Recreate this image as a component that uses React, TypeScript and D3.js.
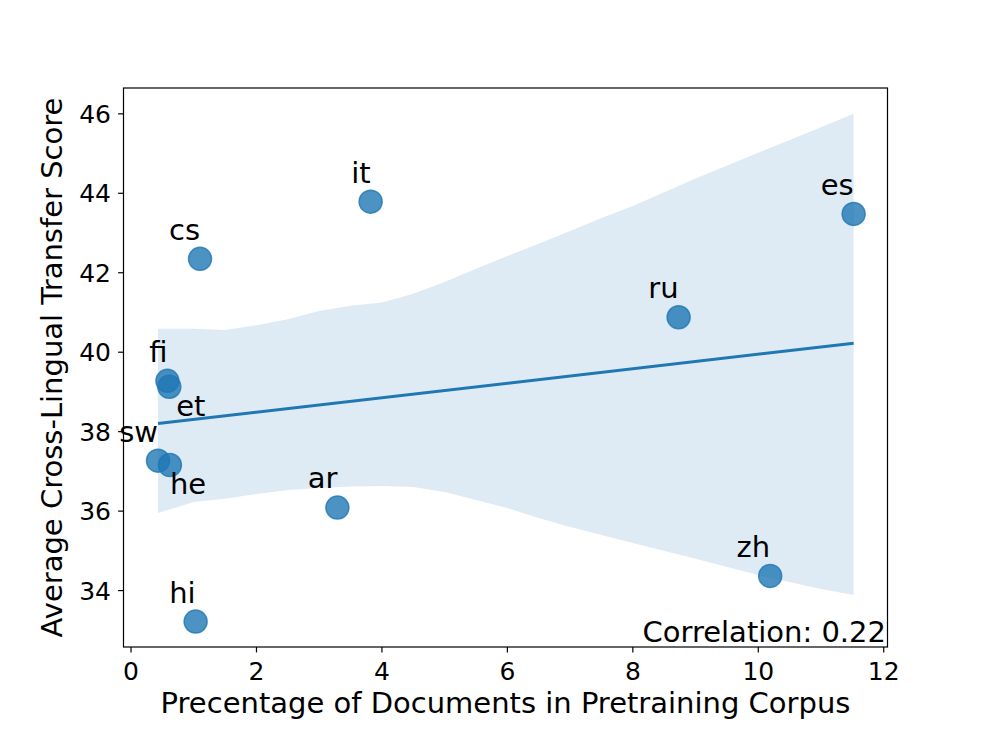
import React from "react";
import * as d3 from "d3";

const languages = ["sw", "fi", "et", "he", "hi", "cs", "ar", "it", "ru", "zh", "es"];
const docPercent = [0.43, 0.58, 0.61, 0.62, 1.03, 1.1, 3.29, 3.82, 8.73, 10.19, 11.52];
const transferScore = [37.27, 39.28, 39.13, 37.16, 33.22, 42.35, 36.09, 43.79, 40.88, 34.37, 43.48];

// confidence band
const bandX = [0.43, 1.0, 1.5, 2.0, 2.5, 3.0, 3.5, 4.0, 4.5, 5.0, 5.5, 6.0, 6.5, 7.0, 7.5, 8.0, 9.0, 10.0, 11.0, 11.52];
const bandUpper = [40.59, 40.59, 40.56, 40.68, 40.83, 41.04, 41.17, 41.25, 41.47, 41.77, 42.1, 42.42, 42.73, 43.05, 43.38, 43.68, 44.37, 45.02, 45.66, 46.0];
const bandLower = [35.95, 36.23, 36.31, 36.43, 36.53, 36.58, 36.62, 36.63, 36.61, 36.48, 36.28, 36.08, 35.83, 35.6, 35.4, 35.2, 34.8, 34.39, 34.04, 33.89];

const xTicks = [0, 2, 4, 6, 8, 10, 12];
const yTicks = [34, 36, 38, 40, 42, 44, 46];

// label placement (anchor, offset in data units)
const labelAnchor = ["end", "end", "start", "start", "end", "end", "end", "end", "end", "end", "end"];
const labelDx = [0, 0, 0.11, 0, 0, 0, 0, 0, 0, 0, 0];
const labelDy = [0.48, 0.48, -0.74, -0.73, 0.48, 0.48, 0.48, 0.48, 0.48, 0.48, 0.48];

const W = 987;
const H = 740;
const L = 123.5, R = 887.5, T = 88, B = 647;
const BLUE = "#1f77b4";
const FONT = "DejaVu Sans, sans-serif";

export default function App() {
  const x = d3.scaleLinear().domain([-0.12, 12.06]).range([L, R]);
  const y = d3.scaleLinear().domain([32.58, 46.65]).range([B, T]);

  const n = docPercent.length;
  const mx = d3.mean(docPercent) as number;
  const my = d3.mean(transferScore) as number;
  let sxy = 0, sxx = 0, syy = 0;
  for (let i = 0; i < n; i++) {
    sxy += (docPercent[i] - mx) * (transferScore[i] - my);
    sxx += (docPercent[i] - mx) ** 2;
    syy += (transferScore[i] - my) ** 2;
  }
  const slope = sxy / sxx;
  const intercept = my - slope * mx;
  const r = sxy / Math.sqrt(sxx * syy);
  const xMin = d3.min(docPercent) as number;
  const xMax = d3.max(docPercent) as number;

  const area = d3
    .area<number>()
    .x((_, i) => x(bandX[i]))
    .y0((_, i) => y(bandLower[i]))
    .y1((_, i) => y(bandUpper[i]));

  const line = d3
    .line<number>()
    .x((d) => x(d))
    .y((d) => y(intercept + slope * d));

  return (
    <svg
      width={W}
      height={H}
      style={{ position: "absolute", left: 0, top: 0, background: "#fff" }}
      fontFamily={FONT}
    >
      <rect x={0} y={0} width={W} height={H} fill="#fff" />
      {docPercent.map((d, i) => (
        <circle
          key={"p" + i}
          cx={x(d)}
          cy={y(transferScore[i])}
          r={11.5}
          fill={BLUE}
          fillOpacity={0.8}
          stroke={BLUE}
          strokeOpacity={0.8}
          strokeWidth={1.5}
        />
      ))}
      <path d={area(bandX) || ""} fill={BLUE} fillOpacity={0.15} />
      <path d={line([xMin, xMax]) || ""} fill="none" stroke={BLUE} strokeWidth={3} />
      {languages.map((lang, i) => (
        <text
          key={"t" + i}
          x={x(docPercent[i] + labelDx[i])}
          y={y(transferScore[i] + labelDy[i])}
          textAnchor={labelAnchor[i] as any}
          fontSize={29}
          fill="#000"
        >
          {lang}
        </text>
      ))}
      <text x={886} y={641.5} textAnchor="end" fontSize={29} fill="#000">
        {"Correlation: " + r.toFixed(2)}
      </text>
      {/* spines */}
      <rect x={L} y={T} width={R - L} height={B - T} fill="none" stroke="#000" strokeWidth={1.2} />
      {/* x ticks */}
      {xTicks.map((t) => (
        <g key={"xt" + t}>
          <line x1={x(t)} x2={x(t)} y1={B} y2={B + 5.4} stroke="#000" strokeWidth={1.2} />
          <text x={x(t)} y={679.5} textAnchor="middle" fontSize={25} fill="#000">
            {t}
          </text>
        </g>
      ))}
      {yTicks.map((t) => (
        <g key={"yt" + t}>
          <line x1={L - 5.4} x2={L} y1={y(t)} y2={y(t)} stroke="#000" strokeWidth={1.2} />
          <text x={111} y={y(t) + 9.1} textAnchor="end" fontSize={25} fill="#000">
            {t}
          </text>
        </g>
      ))}
      <text x={(L + R) / 2} y={713.3} textAnchor="middle" fontSize={29} fill="#000">
        Precentage of Documents in Pretraining Corpus
      </text>
      <text
        transform={`translate(61.7,${(T + B) / 2}) rotate(-90)`}
        textAnchor="middle"
        fontSize={29}
        fill="#000"
      >
        Average Cross-Lingual Transfer Score
      </text>
    </svg>
  );
}
